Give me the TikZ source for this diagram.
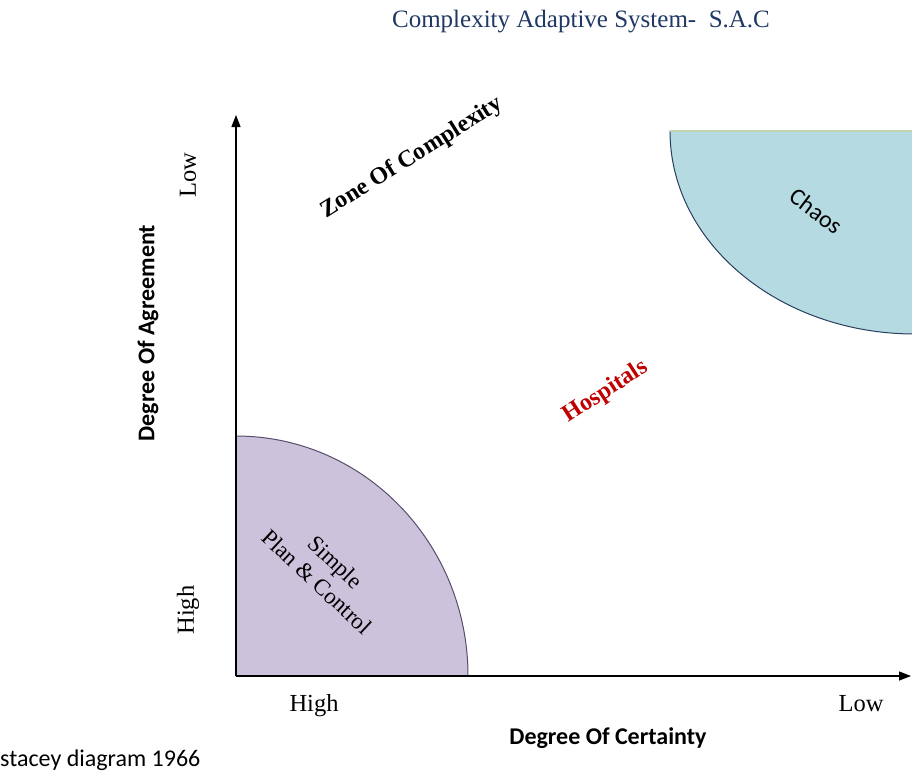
\documentclass[tikz,border=0pt]{standalone}
\usepackage{fontspec}
\setmainfont{Liberation Serif}
\setsansfont{Carlito}
\usepackage{tikz}
\usetikzlibrary{arrows.meta}
\definecolor{titleblue}{RGB}{31,56,100}
\definecolor{simplefill}{RGB}{204,194,220}
\definecolor{simpleedge}{RGB}{88,78,108}
\definecolor{chaosfill}{RGB}{182,218,226}
\definecolor{chaosedge}{RGB}{40,62,95}
\definecolor{rimgreen}{RGB}{196,212,176}
\definecolor{hospred}{RGB}{192,0,0}

\begin{document}
\begin{tikzpicture}[x=1pt,y=-1pt,
    axis/.style={draw=black, line width=1.3pt, -{Triangle[length=12pt,width=9pt]}},
    serif/.style={font=\fontsize{24.5}{26}\selectfont},
    sanslabel/.style={font=\sffamily\bfseries\fontsize{24}{28}\selectfont}]
            \useasboundingbox (0,0) rectangle (912,773);
            % regions
            \begin{scope}
            \clip (0,0) rectangle (912,773);
            \filldraw[fill=chaosfill, draw=chaosedge, line width=1pt]
                (670,131) arc[start angle=180, end angle=90, x radius=245, y radius=203] -- (915,131) -- cycle;
            \draw[rimgreen, line width=1.2pt] (670,131) -- (912,131);
            \end{scope}
            \filldraw[fill=simplefill, draw=simpleedge, line width=1pt]
                (236,676) -- (236,436) arc[start angle=270, end angle=360, x radius=232, y radius=240] -- cycle;
            % axes
            \coordinate (origin) at (236,676);
            \coordinate (ytop) at (236,115);
            \coordinate (xend) at (911,676);
            \draw[axis] (origin) -- (ytop);
            \draw[axis] (origin) -- (xend);
            % labels
            \node[font=\fontsize{25}{28}\selectfont, text=titleblue] (title) at (581,22) {Complexity Adaptive System-\ \ S.A.C};
            \node[serif, rotate=90] (ylow) at (188,175) {Low};
            \node[serif, rotate=90] (yhigh) at (188,610) {High};
            \node[serif] (xhigh) at (314,706) {High};
            \node[serif] (xlow) at (861,704) {Low};
            \node[sanslabel, rotate=90] (yname) at (148,333) {Degree Of Agreement};
            \node[sanslabel] (xname) at (608,738) {Degree Of Certainty};
            \node[font=\sffamily\fontsize{24}{28}\selectfont, anchor=west, inner sep=0pt] (source) at (0,760) {stacey diagram 1966};
            \node[font=\bfseries\fontsize{24}{28}\selectfont, rotate=32] (zone) at (412,158) {Zone Of Complexity};
            \node[font=\bfseries\fontsize{24}{28}\selectfont, text=hospred, rotate=33] (hosp) at (606,392) {Hospitals};
            \node[font=\sffamily\fontsize{24}{28}\selectfont, rotate=-37] (chaos) at (816,211) {Chaos};
            \node[font=\fontsize{23}{27}\selectfont, align=center, rotate=-43] (simple) at (326,572) {Simple\\Plan \& Control};
        \end{tikzpicture}
\end{document}
